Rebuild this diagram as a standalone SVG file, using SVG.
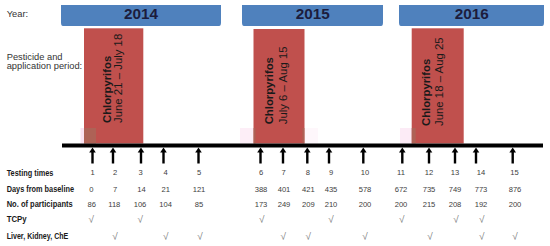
<svg xmlns="http://www.w3.org/2000/svg" xmlns:xlink="http://www.w3.org/1999/xlink" width="550" height="246" viewBox="0 0 550 246">
<defs>
<style>
.bar{fill:#4f81bd}
.yr{font-family:"Liberation Sans",Arial,sans-serif;font-weight:bold;font-size:15.3px;fill:#1c1c3c;text-anchor:middle}
.per{fill:#c0504d}
.glow{fill:#fbe3f2}
.brn{fill:#a66a5a;opacity:0.7}
.pt1{font-family:"Liberation Sans",Arial,sans-serif;font-weight:bold;font-size:11.3px;fill:#1a1a1a}
.pt2{font-family:"Liberation Sans",Arial,sans-serif;font-size:11.4px;fill:#1a1a1a}
.lbl{font-family:"Liberation Sans",Arial,sans-serif;font-size:9.3px;fill:#333}
.rl{font-family:"Liberation Sans",Arial,sans-serif;font-weight:bold;font-size:8.5px;fill:#1a1a1a}
.num{font-family:"Liberation Sans",Arial,sans-serif;font-size:7.6px;fill:#404040;text-anchor:middle}
.ck{font-family:"Liberation Sans","DejaVu Sans",sans-serif;font-size:10px;fill:#808080;text-anchor:middle}
</style>
<g id="arr">
<rect x="-1.2" y="151" width="2.4" height="12.5" fill="#000"/>
<polygon points="-3.3,152.5 0,147.5 3.3,152.5" fill="#000"/>
</g>
</defs>
<rect width="550" height="246" fill="#fff"/>

<g id="left-labels">
<text class="lbl" x="6.7" y="16.5">Year:</text>
<text class="lbl" x="6.7" y="59.5">Pesticide and</text>
<text class="lbl" x="6.7" y="68.5">application period:</text>
</g>

<g id="year-2014">
<path class="bar" d="M61,5 H221 V22.5 Q221,26 219,26 H63 Q61,26 61,22.5 Z"/>
<text class="yr" x="141" y="19">2014</text>
</g>
<g id="year-2015">
<path class="bar" d="M242,5 H383 V22.5 Q383,26 381,26 H244 Q242,26 242,22.5 Z"/>
<text class="yr" x="312.8" y="19">2015</text>
</g>
<g id="year-2016">
<path class="bar" d="M399,5 H544 V22.5 Q544,26 542,26 H401 Q399,26 399,22.5 Z"/>
<text class="yr" x="471.7" y="19">2016</text>
</g>

<g id="period-2014">
<rect class="glow" x="80.5" y="128" width="4" height="15.5"/>
<rect class="per" x="84" y="28.3" width="59.3" height="115.2"/>
<rect class="brn" x="84" y="128" width="12" height="15.5"/>
<text class="pt1" transform="translate(110.6,123) rotate(-90)">Chlorpyrifos</text>
<text class="pt2" transform="translate(121.5,123) rotate(-90)">June 21 – July 18</text>
</g>
<g id="period-2015">
<rect class="glow" x="240" y="128" width="14" height="15.5" opacity="0.6"/>
<rect class="glow" x="304" y="128" width="14" height="15.5" opacity="0.3"/>
<rect class="per" x="253.5" y="29" width="51" height="114.5"/>
<rect class="brn" x="253.5" y="128" width="2" height="15.5"/>
<rect class="brn" x="302.5" y="128" width="2" height="15.5"/>
<text class="pt1" transform="translate(273.2,124.3) rotate(-90)">Chlorpyrifos</text>
<text class="pt2" transform="translate(286.8,124.3) rotate(-90)">July 6 – Aug 15</text>
</g>
<g id="period-2016">
<rect class="glow" x="400" y="128" width="12" height="15.5" opacity="0.7"/>
<rect class="per" x="411.7" y="28.3" width="52" height="115.2"/>
<rect class="brn" x="411.7" y="128" width="4" height="15.5"/>
<text class="pt1" transform="translate(429.9,126) rotate(-90)">Chlorpyrifos</text>
<text class="pt2" transform="translate(442.5,126) rotate(-90)">June 18 – Aug 25</text>
</g>

<g id="timeline">
<rect x="62" y="143.5" width="481" height="4" fill="#000"/>
</g>

<g id="connectors">
<use xlink:href="#arr" href="#arr" x="92.5"/>
<use xlink:href="#arr" href="#arr" x="113"/>
<use xlink:href="#arr" href="#arr" x="141"/>
<use xlink:href="#arr" href="#arr" x="163.5"/>
<use xlink:href="#arr" href="#arr" x="198.5"/>
<use xlink:href="#arr" href="#arr" x="260.5"/>
<use xlink:href="#arr" href="#arr" x="283"/>
<use xlink:href="#arr" href="#arr" x="307.3"/>
<use xlink:href="#arr" href="#arr" x="329"/>
<use xlink:href="#arr" href="#arr" x="363.3"/>
<use xlink:href="#arr" href="#arr" x="402.3"/>
<use xlink:href="#arr" href="#arr" x="429"/>
<use xlink:href="#arr" href="#arr" x="455"/>
<use xlink:href="#arr" href="#arr" x="476"/>
<use xlink:href="#arr" href="#arr" x="512.7"/>
</g>

<g id="row-labels">
<text class="rl" x="6.7" y="175.5" textLength="46.7" lengthAdjust="spacingAndGlyphs">Testing times</text>
<text class="rl" x="6.7" y="192" textLength="67.3" lengthAdjust="spacingAndGlyphs">Days from baseline</text>
<text class="rl" x="6.7" y="207" textLength="66" lengthAdjust="spacingAndGlyphs">No. of participants</text>
<text class="rl" x="6.7" y="221.8" textLength="20" lengthAdjust="spacingAndGlyphs">TCPy</text>
<text class="rl" x="6.7" y="239.3" textLength="61.6" lengthAdjust="spacingAndGlyphs">Liver, Kidney, ChE</text>
</g>

<g id="row-testing-times">
<text class="num" x="92.7" y="175.3">1</text>
<text class="num" x="115" y="175.3">2</text>
<text class="num" x="140.5" y="175.3">3</text>
<text class="num" x="165.7" y="175.3">4</text>
<text class="num" x="199" y="175.3">5</text>
<text class="num" x="261" y="175.3">6</text>
<text class="num" x="283.5" y="175.3">7</text>
<text class="num" x="307.8" y="175.3">8</text>
<text class="num" x="331" y="175.3">9</text>
<text class="num" x="365" y="175.3">10</text>
<text class="num" x="401" y="175.3">11</text>
<text class="num" x="429" y="175.3">12</text>
<text class="num" x="455" y="175.3">13</text>
<text class="num" x="481" y="175.3">14</text>
<text class="num" x="514.5" y="175.3">15</text>
</g>

<g id="row-days">
<text class="num" x="91.3" y="192">0</text>
<text class="num" x="115" y="192">7</text>
<text class="num" x="141.5" y="192">14</text>
<text class="num" x="165.7" y="192">21</text>
<text class="num" x="199" y="192">121</text>
<text class="num" x="261" y="192">388</text>
<text class="num" x="284" y="192">401</text>
<text class="num" x="308.3" y="192">421</text>
<text class="num" x="331" y="192">435</text>
<text class="num" x="365" y="192">578</text>
<text class="num" x="401" y="192">672</text>
<text class="num" x="429" y="192">735</text>
<text class="num" x="455" y="192">749</text>
<text class="num" x="481" y="192">773</text>
<text class="num" x="515" y="192">876</text>
</g>

<g id="row-participants">
<text class="num" x="91.7" y="207">86</text>
<text class="num" x="114.3" y="207">118</text>
<text class="num" x="140" y="207">106</text>
<text class="num" x="165.7" y="207">104</text>
<text class="num" x="199" y="207">85</text>
<text class="num" x="261" y="207">173</text>
<text class="num" x="284" y="207">249</text>
<text class="num" x="308.3" y="207">209</text>
<text class="num" x="331" y="207">210</text>
<text class="num" x="365" y="207">200</text>
<text class="num" x="401" y="207">200</text>
<text class="num" x="429" y="207">215</text>
<text class="num" x="455" y="207">208</text>
<text class="num" x="481" y="207">192</text>
<text class="num" x="515" y="207">200</text>
</g>

<g id="row-tcpy">
<text class="ck" x="91.3" y="222.5">√</text>
<text class="ck" x="140.3" y="222.5">√</text>
<text class="ck" x="261.7" y="222.5">√</text>
<text class="ck" x="331" y="222.5">√</text>
<text class="ck" x="401.7" y="222.5">√</text>
<text class="ck" x="456" y="222.5">√</text>
<text class="ck" x="481.7" y="222.5">√</text>
</g>

<g id="row-liver">
<text class="ck" x="115" y="240">√</text>
<text class="ck" x="165.7" y="240">√</text>
<text class="ck" x="200" y="240">√</text>
<text class="ck" x="283.3" y="240">√</text>
<text class="ck" x="308.3" y="240">√</text>
<text class="ck" x="365" y="240">√</text>
<text class="ck" x="430" y="240">√</text>
<text class="ck" x="481.7" y="240">√</text>
<text class="ck" x="515" y="240">√</text>
</g>
</svg>
